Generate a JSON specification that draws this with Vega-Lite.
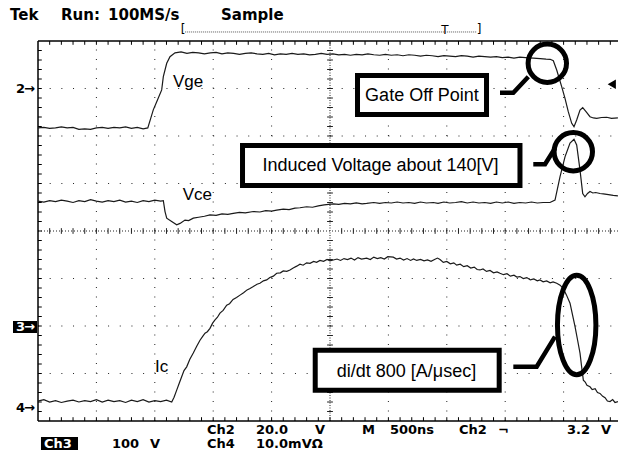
{
"$schema": "https://vega.github.io/schema/vega-lite/v6.json",
"width": 580, "height": 380,
"autosize": "none",
"padding": {"left": 38, "top": 41, "right": 0, "bottom": 32},
"background": "white",
"config": {"view": {"stroke": null}, "axis": {"disable": true}},
"datasets": {
"gv": [{"x":1,"x2":1,"y":0,"y2":8},{"x":2,"x2":2,"y":0,"y2":8},{"x":3,"x2":3,"y":0,"y2":8},{"x":4,"x2":4,"y":0,"y2":8},{"x":6,"x2":6,"y":0,"y2":8},{"x":7,"x2":7,"y":0,"y2":8},{"x":8,"x2":8,"y":0,"y2":8},{"x":9,"x2":9,"y":0,"y2":8}],
"gh": [{"x":0,"x2":9.9315,"y":1,"y2":1},{"x":0,"x2":9.9315,"y":2,"y2":2},{"x":0,"x2":9.9315,"y":3,"y2":3},{"x":0,"x2":9.9315,"y":5,"y2":5},{"x":0,"x2":9.9315,"y":6,"y2":6},{"x":0,"x2":9.9315,"y":7,"y2":7}],
"cv": [{"x":5,"x2":5,"y":0,"y2":8}],
"chz": [{"x":0,"x2":9.9315,"y":4,"y2":4}],
"frame": [{"x":0,"x2":9.9315,"y":8,"y2":8},{"x":0,"x2":0,"y":0,"y2":8},{"x":0,"x2":9.9315,"y":0,"y2":0}],
"ticks": [
{"x":0.2,"x2":0.2,"y":8,"y2":7.92},{"x":0.4,"x2":0.4,"y":8,"y2":7.92},{"x":0.6,"x2":0.6,"y":8,"y2":7.92},{"x":0.8,"x2":0.8,"y":8,"y2":7.92},{"x":1,"x2":1,"y":8,"y2":7.92},{"x":1.2,"x2":1.2,"y":8,"y2":7.92},{"x":1.4,"x2":1.4,"y":8,"y2":7.92},{"x":1.6,"x2":1.6,"y":8,"y2":7.92},{"x":1.8,"x2":1.8,"y":8,"y2":7.92},{"x":2,"x2":2,"y":8,"y2":7.92},{"x":2.2,"x2":2.2,"y":8,"y2":7.92},{"x":2.4,"x2":2.4,"y":8,"y2":7.92},{"x":2.6,"x2":2.6,"y":8,"y2":7.92},{"x":2.8,"x2":2.8,"y":8,"y2":7.92},{"x":3,"x2":3,"y":8,"y2":7.92},{"x":3.2,"x2":3.2,"y":8,"y2":7.92},{"x":3.4,"x2":3.4,"y":8,"y2":7.92},{"x":3.6,"x2":3.6,"y":8,"y2":7.92},{"x":3.8,"x2":3.8,"y":8,"y2":7.92},{"x":4,"x2":4,"y":8,"y2":7.92},{"x":4.2,"x2":4.2,"y":8,"y2":7.92},{"x":4.4,"x2":4.4,"y":8,"y2":7.92},{"x":4.6,"x2":4.6,"y":8,"y2":7.92},{"x":4.8,"x2":4.8,"y":8,"y2":7.92},{"x":5,"x2":5,"y":8,"y2":7.92},{"x":5.2,"x2":5.2,"y":8,"y2":7.92},{"x":5.4,"x2":5.4,"y":8,"y2":7.92},{"x":5.6,"x2":5.6,"y":8,"y2":7.92},{"x":5.8,"x2":5.8,"y":8,"y2":7.92},{"x":6,"x2":6,"y":8,"y2":7.92},{"x":6.2,"x2":6.2,"y":8,"y2":7.92},{"x":6.4,"x2":6.4,"y":8,"y2":7.92},{"x":6.6,"x2":6.6,"y":8,"y2":7.92},{"x":6.8,"x2":6.8,"y":8,"y2":7.92},{"x":7,"x2":7,"y":8,"y2":7.92},{"x":7.2,"x2":7.2,"y":8,"y2":7.92},{"x":7.4,"x2":7.4,"y":8,"y2":7.92},{"x":7.6,"x2":7.6,"y":8,"y2":7.92},{"x":7.8,"x2":7.8,"y":8,"y2":7.92},{"x":8,"x2":8,"y":8,"y2":7.92},{"x":8.2,"x2":8.2,"y":8,"y2":7.92},{"x":8.4,"x2":8.4,"y":8,"y2":7.92},{"x":8.6,"x2":8.6,"y":8,"y2":7.92},{"x":8.8,"x2":8.8,"y":8,"y2":7.92},{"x":9,"x2":9,"y":8,"y2":7.92},{"x":9.2,"x2":9.2,"y":8,"y2":7.92},{"x":9.4,"x2":9.4,"y":8,"y2":7.92},{"x":9.6,"x2":9.6,"y":8,"y2":7.92},{"x":9.8,"x2":9.8,"y":8,"y2":7.92},
{"x":0.2,"x2":0.2,"y":0,"y2":0.08},{"x":0.4,"x2":0.4,"y":0,"y2":0.08},{"x":0.6,"x2":0.6,"y":0,"y2":0.08},{"x":0.8,"x2":0.8,"y":0,"y2":0.08},{"x":1,"x2":1,"y":0,"y2":0.08},{"x":1.2,"x2":1.2,"y":0,"y2":0.08},{"x":1.4,"x2":1.4,"y":0,"y2":0.08},{"x":1.6,"x2":1.6,"y":0,"y2":0.08},{"x":1.8,"x2":1.8,"y":0,"y2":0.08},{"x":2,"x2":2,"y":0,"y2":0.08},{"x":2.2,"x2":2.2,"y":0,"y2":0.08},{"x":2.4,"x2":2.4,"y":0,"y2":0.08},{"x":2.6,"x2":2.6,"y":0,"y2":0.08},{"x":2.8,"x2":2.8,"y":0,"y2":0.08},{"x":3,"x2":3,"y":0,"y2":0.08},{"x":3.2,"x2":3.2,"y":0,"y2":0.08},{"x":3.4,"x2":3.4,"y":0,"y2":0.08},{"x":3.6,"x2":3.6,"y":0,"y2":0.08},{"x":3.8,"x2":3.8,"y":0,"y2":0.08},{"x":4,"x2":4,"y":0,"y2":0.08},{"x":4.2,"x2":4.2,"y":0,"y2":0.08},{"x":4.4,"x2":4.4,"y":0,"y2":0.08},{"x":4.6,"x2":4.6,"y":0,"y2":0.08},{"x":4.8,"x2":4.8,"y":0,"y2":0.08},{"x":5,"x2":5,"y":0,"y2":0.08},{"x":5.2,"x2":5.2,"y":0,"y2":0.08},{"x":5.4,"x2":5.4,"y":0,"y2":0.08},{"x":5.6,"x2":5.6,"y":0,"y2":0.08},{"x":5.8,"x2":5.8,"y":0,"y2":0.08},{"x":6,"x2":6,"y":0,"y2":0.08},{"x":6.2,"x2":6.2,"y":0,"y2":0.08},{"x":6.4,"x2":6.4,"y":0,"y2":0.08},{"x":6.6,"x2":6.6,"y":0,"y2":0.08},{"x":6.8,"x2":6.8,"y":0,"y2":0.08},{"x":7,"x2":7,"y":0,"y2":0.08},{"x":7.2,"x2":7.2,"y":0,"y2":0.08},{"x":7.4,"x2":7.4,"y":0,"y2":0.08},{"x":7.6,"x2":7.6,"y":0,"y2":0.08},{"x":7.8,"x2":7.8,"y":0,"y2":0.08},{"x":8,"x2":8,"y":0,"y2":0.08},{"x":8.2,"x2":8.2,"y":0,"y2":0.08},{"x":8.4,"x2":8.4,"y":0,"y2":0.08},{"x":8.6,"x2":8.6,"y":0,"y2":0.08},{"x":8.8,"x2":8.8,"y":0,"y2":0.08},{"x":9,"x2":9,"y":0,"y2":0.08},{"x":9.2,"x2":9.2,"y":0,"y2":0.08},{"x":9.4,"x2":9.4,"y":0,"y2":0.08},{"x":9.6,"x2":9.6,"y":0,"y2":0.08},{"x":9.8,"x2":9.8,"y":0,"y2":0.08},
{"x":0,"x2":0.065,"y":0.2,"y2":0.2},{"x":0,"x2":0.065,"y":0.4,"y2":0.4},{"x":0,"x2":0.065,"y":0.6,"y2":0.6},{"x":0,"x2":0.065,"y":0.8,"y2":0.8},{"x":0,"x2":0.065,"y":1,"y2":1},{"x":0,"x2":0.065,"y":1.2,"y2":1.2},{"x":0,"x2":0.065,"y":1.4,"y2":1.4},{"x":0,"x2":0.065,"y":1.6,"y2":1.6},{"x":0,"x2":0.065,"y":1.8,"y2":1.8},{"x":0,"x2":0.065,"y":2,"y2":2},{"x":0,"x2":0.065,"y":2.2,"y2":2.2},{"x":0,"x2":0.065,"y":2.4,"y2":2.4},{"x":0,"x2":0.065,"y":2.6,"y2":2.6},{"x":0,"x2":0.065,"y":2.8,"y2":2.8},{"x":0,"x2":0.065,"y":3,"y2":3},{"x":0,"x2":0.065,"y":3.2,"y2":3.2},{"x":0,"x2":0.065,"y":3.4,"y2":3.4},{"x":0,"x2":0.065,"y":3.6,"y2":3.6},{"x":0,"x2":0.065,"y":3.8,"y2":3.8},{"x":0,"x2":0.065,"y":4,"y2":4},{"x":0,"x2":0.065,"y":4.2,"y2":4.2},{"x":0,"x2":0.065,"y":4.4,"y2":4.4},{"x":0,"x2":0.065,"y":4.6,"y2":4.6},{"x":0,"x2":0.065,"y":4.8,"y2":4.8},{"x":0,"x2":0.065,"y":5,"y2":5},{"x":0,"x2":0.065,"y":5.2,"y2":5.2},{"x":0,"x2":0.065,"y":5.4,"y2":5.4},{"x":0,"x2":0.065,"y":5.6,"y2":5.6},{"x":0,"x2":0.065,"y":5.8,"y2":5.8},{"x":0,"x2":0.065,"y":6,"y2":6},{"x":0,"x2":0.065,"y":6.2,"y2":6.2},{"x":0,"x2":0.065,"y":6.4,"y2":6.4},{"x":0,"x2":0.065,"y":6.6,"y2":6.6},{"x":0,"x2":0.065,"y":6.8,"y2":6.8},{"x":0,"x2":0.065,"y":7,"y2":7},{"x":0,"x2":0.065,"y":7.2,"y2":7.2},{"x":0,"x2":0.065,"y":7.4,"y2":7.4},{"x":0,"x2":0.065,"y":7.6,"y2":7.6},{"x":0,"x2":0.065,"y":7.8,"y2":7.8}
],
"cticks": [
{"x":0.2,"x2":0.2,"y":3.94,"y2":4.06},{"x":0.4,"x2":0.4,"y":3.94,"y2":4.06},{"x":0.6,"x2":0.6,"y":3.94,"y2":4.06},{"x":0.8,"x2":0.8,"y":3.94,"y2":4.06},{"x":1,"x2":1,"y":3.94,"y2":4.06},{"x":1.2,"x2":1.2,"y":3.94,"y2":4.06},{"x":1.4,"x2":1.4,"y":3.94,"y2":4.06},{"x":1.6,"x2":1.6,"y":3.94,"y2":4.06},{"x":1.8,"x2":1.8,"y":3.94,"y2":4.06},{"x":2,"x2":2,"y":3.94,"y2":4.06},{"x":2.2,"x2":2.2,"y":3.94,"y2":4.06},{"x":2.4,"x2":2.4,"y":3.94,"y2":4.06},{"x":2.6,"x2":2.6,"y":3.94,"y2":4.06},{"x":2.8,"x2":2.8,"y":3.94,"y2":4.06},{"x":3,"x2":3,"y":3.94,"y2":4.06},{"x":3.2,"x2":3.2,"y":3.94,"y2":4.06},{"x":3.4,"x2":3.4,"y":3.94,"y2":4.06},{"x":3.6,"x2":3.6,"y":3.94,"y2":4.06},{"x":3.8,"x2":3.8,"y":3.94,"y2":4.06},{"x":4,"x2":4,"y":3.94,"y2":4.06},{"x":4.2,"x2":4.2,"y":3.94,"y2":4.06},{"x":4.4,"x2":4.4,"y":3.94,"y2":4.06},{"x":4.6,"x2":4.6,"y":3.94,"y2":4.06},{"x":4.8,"x2":4.8,"y":3.94,"y2":4.06},{"x":5.2,"x2":5.2,"y":3.94,"y2":4.06},{"x":5.4,"x2":5.4,"y":3.94,"y2":4.06},{"x":5.6,"x2":5.6,"y":3.94,"y2":4.06},{"x":5.8,"x2":5.8,"y":3.94,"y2":4.06},{"x":6,"x2":6,"y":3.94,"y2":4.06},{"x":6.2,"x2":6.2,"y":3.94,"y2":4.06},{"x":6.4,"x2":6.4,"y":3.94,"y2":4.06},{"x":6.6,"x2":6.6,"y":3.94,"y2":4.06},{"x":6.8,"x2":6.8,"y":3.94,"y2":4.06},{"x":7,"x2":7,"y":3.94,"y2":4.06},{"x":7.2,"x2":7.2,"y":3.94,"y2":4.06},{"x":7.4,"x2":7.4,"y":3.94,"y2":4.06},{"x":7.6,"x2":7.6,"y":3.94,"y2":4.06},{"x":7.8,"x2":7.8,"y":3.94,"y2":4.06},{"x":8,"x2":8,"y":3.94,"y2":4.06},{"x":8.2,"x2":8.2,"y":3.94,"y2":4.06},{"x":8.4,"x2":8.4,"y":3.94,"y2":4.06},{"x":8.6,"x2":8.6,"y":3.94,"y2":4.06},{"x":8.8,"x2":8.8,"y":3.94,"y2":4.06},{"x":9,"x2":9,"y":3.94,"y2":4.06},{"x":9.2,"x2":9.2,"y":3.94,"y2":4.06},{"x":9.4,"x2":9.4,"y":3.94,"y2":4.06},{"x":9.6,"x2":9.6,"y":3.94,"y2":4.06},{"x":9.8,"x2":9.8,"y":3.94,"y2":4.06},
{"x":4.95,"x2":5.05,"y":0.2,"y2":0.2},{"x":4.95,"x2":5.05,"y":0.4,"y2":0.4},{"x":4.95,"x2":5.05,"y":0.6,"y2":0.6},{"x":4.95,"x2":5.05,"y":0.8,"y2":0.8},{"x":4.95,"x2":5.05,"y":1,"y2":1},{"x":4.95,"x2":5.05,"y":1.2,"y2":1.2},{"x":4.95,"x2":5.05,"y":1.4,"y2":1.4},{"x":4.95,"x2":5.05,"y":1.6,"y2":1.6},{"x":4.95,"x2":5.05,"y":1.8,"y2":1.8},{"x":4.95,"x2":5.05,"y":2,"y2":2},{"x":4.95,"x2":5.05,"y":2.2,"y2":2.2},{"x":4.95,"x2":5.05,"y":2.4,"y2":2.4},{"x":4.95,"x2":5.05,"y":2.6,"y2":2.6},{"x":4.95,"x2":5.05,"y":2.8,"y2":2.8},{"x":4.95,"x2":5.05,"y":3,"y2":3},{"x":4.95,"x2":5.05,"y":3.2,"y2":3.2},{"x":4.95,"x2":5.05,"y":3.4,"y2":3.4},{"x":4.95,"x2":5.05,"y":3.6,"y2":3.6},{"x":4.95,"x2":5.05,"y":3.8,"y2":3.8},{"x":4.95,"x2":5.05,"y":4.2,"y2":4.2},{"x":4.95,"x2":5.05,"y":4.4,"y2":4.4},{"x":4.95,"x2":5.05,"y":4.6,"y2":4.6},{"x":4.95,"x2":5.05,"y":4.8,"y2":4.8},{"x":4.95,"x2":5.05,"y":5,"y2":5},{"x":4.95,"x2":5.05,"y":5.2,"y2":5.2},{"x":4.95,"x2":5.05,"y":5.4,"y2":5.4},{"x":4.95,"x2":5.05,"y":5.6,"y2":5.6},{"x":4.95,"x2":5.05,"y":5.8,"y2":5.8},{"x":4.95,"x2":5.05,"y":6,"y2":6},{"x":4.95,"x2":5.05,"y":6.2,"y2":6.2},{"x":4.95,"x2":5.05,"y":6.4,"y2":6.4},{"x":4.95,"x2":5.05,"y":6.6,"y2":6.6},{"x":4.95,"x2":5.05,"y":6.8,"y2":6.8},{"x":4.95,"x2":5.05,"y":7,"y2":7},{"x":4.95,"x2":5.05,"y":7.2,"y2":7.2},{"x":4.95,"x2":5.05,"y":7.4,"y2":7.4},{"x":4.95,"x2":5.05,"y":7.6,"y2":7.6},{"x":4.95,"x2":5.05,"y":7.8,"y2":7.8}
],
"traces": [
{"ch":"Vge","x":0,"y":6.17},{"ch":"Vge","x":0.1,"y":6.18},{"ch":"Vge","x":0.2,"y":6.16},{"ch":"Vge","x":0.3,"y":6.17},{"ch":"Vge","x":0.4,"y":6.19},{"ch":"Vge","x":0.5,"y":6.17},{"ch":"Vge","x":0.6,"y":6.18},{"ch":"Vge","x":0.7,"y":6.14},{"ch":"Vge","x":0.8,"y":6.15},{"ch":"Vge","x":0.9,"y":6.14},{"ch":"Vge","x":1.0,"y":6.17},{"ch":"Vge","x":1.1,"y":6.18},{"ch":"Vge","x":1.2,"y":6.16},{"ch":"Vge","x":1.3,"y":6.18},{"ch":"Vge","x":1.4,"y":6.17},{"ch":"Vge","x":1.5,"y":6.19},{"ch":"Vge","x":1.6,"y":6.16},{"ch":"Vge","x":1.7,"y":6.18},{"ch":"Vge","x":1.8,"y":6.15},{"ch":"Vge","x":1.88,"y":6.17},{"ch":"Vge","x":1.93,"y":6.37},{"ch":"Vge","x":1.974,"y":6.55},{"ch":"Vge","x":2.033,"y":6.72},{"ch":"Vge","x":2.118,"y":6.97},{"ch":"Vge","x":2.146,"y":7.25},{"ch":"Vge","x":2.204,"y":7.53},{"ch":"Vge","x":2.26,"y":7.67},{"ch":"Vge","x":2.346,"y":7.75},{"ch":"Vge","x":2.45,"y":7.77},{"ch":"Vge","x":2.55,"y":7.74},{"ch":"Vge","x":2.65,"y":7.76},{"ch":"Vge","x":2.75,"y":7.75},{"ch":"Vge","x":2.85,"y":7.73},{"ch":"Vge","x":2.95,"y":7.75},{"ch":"Vge","x":3.05,"y":7.76},{"ch":"Vge","x":3.15,"y":7.73},{"ch":"Vge","x":3.25,"y":7.75},{"ch":"Vge","x":3.35,"y":7.74},{"ch":"Vge","x":3.45,"y":7.72},{"ch":"Vge","x":3.55,"y":7.74},{"ch":"Vge","x":3.65,"y":7.75},{"ch":"Vge","x":3.75,"y":7.73},{"ch":"Vge","x":3.85,"y":7.72},{"ch":"Vge","x":3.95,"y":7.74},{"ch":"Vge","x":4.05,"y":7.71},{"ch":"Vge","x":4.15,"y":7.73},{"ch":"Vge","x":4.25,"y":7.72},{"ch":"Vge","x":4.35,"y":7.74},{"ch":"Vge","x":4.45,"y":7.72},{"ch":"Vge","x":4.55,"y":7.73},{"ch":"Vge","x":4.65,"y":7.71},{"ch":"Vge","x":4.75,"y":7.72},{"ch":"Vge","x":4.85,"y":7.74},{"ch":"Vge","x":4.95,"y":7.72},{"ch":"Vge","x":5.05,"y":7.73},{"ch":"Vge","x":5.15,"y":7.71},{"ch":"Vge","x":5.25,"y":7.72},{"ch":"Vge","x":5.35,"y":7.70},{"ch":"Vge","x":5.45,"y":7.72},{"ch":"Vge","x":5.55,"y":7.71},{"ch":"Vge","x":5.65,"y":7.73},{"ch":"Vge","x":5.75,"y":7.71},{"ch":"Vge","x":5.85,"y":7.70},{"ch":"Vge","x":5.95,"y":7.72},{"ch":"Vge","x":6.05,"y":7.70},{"ch":"Vge","x":6.15,"y":7.71},{"ch":"Vge","x":6.25,"y":7.69},{"ch":"Vge","x":6.35,"y":7.71},{"ch":"Vge","x":6.45,"y":7.70},{"ch":"Vge","x":6.55,"y":7.68},{"ch":"Vge","x":6.65,"y":7.70},{"ch":"Vge","x":6.75,"y":7.69},{"ch":"Vge","x":6.85,"y":7.67},{"ch":"Vge","x":6.95,"y":7.69},{"ch":"Vge","x":7.05,"y":7.68},{"ch":"Vge","x":7.15,"y":7.67},{"ch":"Vge","x":7.25,"y":7.69},{"ch":"Vge","x":7.35,"y":7.68},{"ch":"Vge","x":7.45,"y":7.66},{"ch":"Vge","x":7.55,"y":7.68},{"ch":"Vge","x":7.65,"y":7.67},{"ch":"Vge","x":7.75,"y":7.66},{"ch":"Vge","x":7.85,"y":7.67},{"ch":"Vge","x":7.95,"y":7.65},{"ch":"Vge","x":8.05,"y":7.66},{"ch":"Vge","x":8.15,"y":7.64},{"ch":"Vge","x":8.25,"y":7.66},{"ch":"Vge","x":8.35,"y":7.65},{"ch":"Vge","x":8.48,"y":7.64},{"ch":"Vge","x":8.6,"y":7.63},{"ch":"Vge","x":8.7,"y":7.62},{"ch":"Vge","x":8.77,"y":7.615},{"ch":"Vge","x":8.824,"y":7.585},{"ch":"Vge","x":8.882,"y":7.389},{"ch":"Vge","x":8.967,"y":7.038},{"ch":"Vge","x":9.024,"y":6.794},{"ch":"Vge","x":9.08,"y":6.512},{"ch":"Vge","x":9.139,"y":6.267},{"ch":"Vge","x":9.178,"y":6.196},{"ch":"Vge","x":9.224,"y":6.337},{"ch":"Vge","x":9.281,"y":6.547},{"ch":"Vge","x":9.327,"y":6.596},{"ch":"Vge","x":9.384,"y":6.512},{"ch":"Vge","x":9.452,"y":6.406},{"ch":"Vge","x":9.51,"y":6.38},{"ch":"Vge","x":9.567,"y":6.373},{"ch":"Vge","x":9.65,"y":6.39},{"ch":"Vge","x":9.738,"y":6.394},{"ch":"Vge","x":9.82,"y":6.37},{"ch":"Vge","x":9.93,"y":6.38},
{"ch":"Vce","x":0,"y":4.63},{"ch":"Vce","x":0.1,"y":4.61},{"ch":"Vce","x":0.2,"y":4.64},{"ch":"Vce","x":0.3,"y":4.62},{"ch":"Vce","x":0.4,"y":4.65},{"ch":"Vce","x":0.5,"y":4.63},{"ch":"Vce","x":0.6,"y":4.60},{"ch":"Vce","x":0.7,"y":4.64},{"ch":"Vce","x":0.8,"y":4.62},{"ch":"Vce","x":0.9,"y":4.66},{"ch":"Vce","x":1.0,"y":4.63},{"ch":"Vce","x":1.1,"y":4.61},{"ch":"Vce","x":1.2,"y":4.64},{"ch":"Vce","x":1.3,"y":4.62},{"ch":"Vce","x":1.4,"y":4.65},{"ch":"Vce","x":1.5,"y":4.61},{"ch":"Vce","x":1.6,"y":4.63},{"ch":"Vce","x":1.7,"y":4.60},{"ch":"Vce","x":1.8,"y":4.64},{"ch":"Vce","x":1.9,"y":4.62},{"ch":"Vce","x":2.0,"y":4.65},{"ch":"Vce","x":2.1,"y":4.63},{"ch":"Vce","x":2.146,"y":4.64},{"ch":"Vce","x":2.175,"y":4.41},{"ch":"Vce","x":2.204,"y":4.27},{"ch":"Vce","x":2.289,"y":4.20},{"ch":"Vce","x":2.375,"y":4.13},{"ch":"Vce","x":2.432,"y":4.16},{"ch":"Vce","x":2.517,"y":4.23},{"ch":"Vce","x":2.58,"y":4.22},{"ch":"Vce","x":2.659,"y":4.27},{"ch":"Vce","x":2.75,"y":4.29},{"ch":"Vce","x":2.85,"y":4.31},{"ch":"Vce","x":2.945,"y":4.34},{"ch":"Vce","x":3.05,"y":4.33},{"ch":"Vce","x":3.15,"y":4.36},{"ch":"Vce","x":3.25,"y":4.35},{"ch":"Vce","x":3.344,"y":4.37},{"ch":"Vce","x":3.45,"y":4.39},{"ch":"Vce","x":3.55,"y":4.38},{"ch":"Vce","x":3.687,"y":4.41},{"ch":"Vce","x":3.8,"y":4.40},{"ch":"Vce","x":3.9,"y":4.43},{"ch":"Vce","x":4.0,"y":4.42},{"ch":"Vce","x":4.087,"y":4.44},{"ch":"Vce","x":4.2,"y":4.46},{"ch":"Vce","x":4.3,"y":4.45},{"ch":"Vce","x":4.4,"y":4.48},{"ch":"Vce","x":4.486,"y":4.49},{"ch":"Vce","x":4.6,"y":4.51},{"ch":"Vce","x":4.7,"y":4.50},{"ch":"Vce","x":4.8,"y":4.53},{"ch":"Vce","x":4.9,"y":4.55},{"ch":"Vce","x":5.057,"y":4.57},{"ch":"Vce","x":5.15,"y":4.56},{"ch":"Vce","x":5.25,"y":4.58},{"ch":"Vce","x":5.35,"y":4.57},{"ch":"Vce","x":5.45,"y":4.59},{"ch":"Vce","x":5.55,"y":4.57},{"ch":"Vce","x":5.628,"y":4.58},{"ch":"Vce","x":5.75,"y":4.60},{"ch":"Vce","x":5.85,"y":4.58},{"ch":"Vce","x":5.95,"y":4.60},{"ch":"Vce","x":6.05,"y":4.59},{"ch":"Vce","x":6.15,"y":4.61},{"ch":"Vce","x":6.25,"y":4.59},{"ch":"Vce","x":6.35,"y":4.60},{"ch":"Vce","x":6.45,"y":4.58},{"ch":"Vce","x":6.55,"y":4.61},{"ch":"Vce","x":6.65,"y":4.59},{"ch":"Vce","x":6.769,"y":4.60},{"ch":"Vce","x":6.85,"y":4.58},{"ch":"Vce","x":6.95,"y":4.61},{"ch":"Vce","x":7.05,"y":4.59},{"ch":"Vce","x":7.15,"y":4.60},{"ch":"Vce","x":7.25,"y":4.62},{"ch":"Vce","x":7.35,"y":4.59},{"ch":"Vce","x":7.45,"y":4.61},{"ch":"Vce","x":7.55,"y":4.59},{"ch":"Vce","x":7.65,"y":4.60},{"ch":"Vce","x":7.75,"y":4.58},{"ch":"Vce","x":7.85,"y":4.61},{"ch":"Vce","x":7.95,"y":4.59},{"ch":"Vce","x":8.05,"y":4.61},{"ch":"Vce","x":8.15,"y":4.58},{"ch":"Vce","x":8.25,"y":4.60},{"ch":"Vce","x":8.35,"y":4.59},{"ch":"Vce","x":8.45,"y":4.61},{"ch":"Vce","x":8.55,"y":4.59},{"ch":"Vce","x":8.65,"y":4.60},{"ch":"Vce","x":8.767,"y":4.60},{"ch":"Vce","x":8.853,"y":4.65},{"ch":"Vce","x":8.938,"y":5.14},{"ch":"Vce","x":9.024,"y":5.56},{"ch":"Vce","x":9.11,"y":5.85},{"ch":"Vce","x":9.178,"y":5.93},{"ch":"Vce","x":9.224,"y":5.81},{"ch":"Vce","x":9.281,"y":5.28},{"ch":"Vce","x":9.327,"y":4.79},{"ch":"Vce","x":9.366,"y":4.72},{"ch":"Vce","x":9.41,"y":4.79},{"ch":"Vce","x":9.452,"y":4.83},{"ch":"Vce","x":9.5,"y":4.80},{"ch":"Vce","x":9.55,"y":4.81},{"ch":"Vce","x":9.623,"y":4.79},{"ch":"Vce","x":9.68,"y":4.78},{"ch":"Vce","x":9.74,"y":4.77},{"ch":"Vce","x":9.795,"y":4.76},{"ch":"Vce","x":9.85,"y":4.75},{"ch":"Vce","x":9.93,"y":4.74},
{"ch":"Ic","x":0,"y":0.42},{"ch":"Ic","x":0.1,"y":0.45},{"ch":"Ic","x":0.2,"y":0.40},{"ch":"Ic","x":0.3,"y":0.43},{"ch":"Ic","x":0.4,"y":0.39},{"ch":"Ic","x":0.5,"y":0.42},{"ch":"Ic","x":0.6,"y":0.44},{"ch":"Ic","x":0.7,"y":0.40},{"ch":"Ic","x":0.8,"y":0.43},{"ch":"Ic","x":0.9,"y":0.41},{"ch":"Ic","x":1.0,"y":0.45},{"ch":"Ic","x":1.1,"y":0.40},{"ch":"Ic","x":1.2,"y":0.44},{"ch":"Ic","x":1.3,"y":0.41},{"ch":"Ic","x":1.4,"y":0.43},{"ch":"Ic","x":1.5,"y":0.39},{"ch":"Ic","x":1.6,"y":0.44},{"ch":"Ic","x":1.7,"y":0.41},{"ch":"Ic","x":1.8,"y":0.45},{"ch":"Ic","x":1.9,"y":0.40},{"ch":"Ic","x":2.0,"y":0.43},{"ch":"Ic","x":2.1,"y":0.41},{"ch":"Ic","x":2.2,"y":0.44},{"ch":"Ic","x":2.29,"y":0.40},{"ch":"Ic","x":2.33,"y":0.50},{"ch":"Ic","x":2.375,"y":0.65},{"ch":"Ic","x":2.42,"y":0.80},{"ch":"Ic","x":2.46,"y":0.93},{"ch":"Ic","x":2.5,"y":1.06},{"ch":"Ic","x":2.546,"y":1.14},{"ch":"Ic","x":2.6,"y":1.30},{"ch":"Ic","x":2.659,"y":1.43},{"ch":"Ic","x":2.72,"y":1.58},{"ch":"Ic","x":2.774,"y":1.70},{"ch":"Ic","x":2.82,"y":1.78},{"ch":"Ic","x":2.86,"y":1.85},{"ch":"Ic","x":2.9,"y":1.88},{"ch":"Ic","x":2.945,"y":1.95},{"ch":"Ic","x":2.99,"y":2.06},{"ch":"Ic","x":3.031,"y":2.13},{"ch":"Ic","x":3.07,"y":2.18},{"ch":"Ic","x":3.116,"y":2.27},{"ch":"Ic","x":3.17,"y":2.33},{"ch":"Ic","x":3.231,"y":2.44},{"ch":"Ic","x":3.28,"y":2.47},{"ch":"Ic","x":3.34,"y":2.56},{"ch":"Ic","x":3.4,"y":2.60},{"ch":"Ic","x":3.459,"y":2.65},{"ch":"Ic","x":3.52,"y":2.70},{"ch":"Ic","x":3.58,"y":2.76},{"ch":"Ic","x":3.63,"y":2.79},{"ch":"Ic","x":3.687,"y":2.83},{"ch":"Ic","x":3.75,"y":2.88},{"ch":"Ic","x":3.8,"y":2.90},{"ch":"Ic","x":3.86,"y":2.95},{"ch":"Ic","x":3.916,"y":2.97},{"ch":"Ic","x":3.97,"y":3.02},{"ch":"Ic","x":4.03,"y":3.05},{"ch":"Ic","x":4.087,"y":3.11},{"ch":"Ic","x":4.15,"y":3.12},{"ch":"Ic","x":4.2,"y":3.16},{"ch":"Ic","x":4.26,"y":3.15},{"ch":"Ic","x":4.315,"y":3.18},{"ch":"Ic","x":4.37,"y":3.22},{"ch":"Ic","x":4.43,"y":3.26},{"ch":"Ic","x":4.486,"y":3.30},{"ch":"Ic","x":4.54,"y":3.28},{"ch":"Ic","x":4.6,"y":3.33},{"ch":"Ic","x":4.658,"y":3.32},{"ch":"Ic","x":4.72,"y":3.36},{"ch":"Ic","x":4.77,"y":3.34},{"ch":"Ic","x":4.829,"y":3.38},{"ch":"Ic","x":4.89,"y":3.36},{"ch":"Ic","x":4.95,"y":3.40},{"ch":"Ic","x":5.0,"y":3.37},{"ch":"Ic","x":5.057,"y":3.39},{"ch":"Ic","x":5.12,"y":3.41},{"ch":"Ic","x":5.18,"y":3.38},{"ch":"Ic","x":5.24,"y":3.42},{"ch":"Ic","x":5.3,"y":3.40},{"ch":"Ic","x":5.36,"y":3.43},{"ch":"Ic","x":5.42,"y":3.39},{"ch":"Ic","x":5.48,"y":3.44},{"ch":"Ic","x":5.54,"y":3.41},{"ch":"Ic","x":5.628,"y":3.43},{"ch":"Ic","x":5.69,"y":3.40},{"ch":"Ic","x":5.75,"y":3.45},{"ch":"Ic","x":5.81,"y":3.42},{"ch":"Ic","x":5.87,"y":3.44},{"ch":"Ic","x":5.93,"y":3.41},{"ch":"Ic","x":5.99,"y":3.46},{"ch":"Ic","x":6.084,"y":3.45},{"ch":"Ic","x":6.14,"y":3.41},{"ch":"Ic","x":6.2,"y":3.43},{"ch":"Ic","x":6.26,"y":3.39},{"ch":"Ic","x":6.32,"y":3.42},{"ch":"Ic","x":6.38,"y":3.38},{"ch":"Ic","x":6.43,"y":3.41},{"ch":"Ic","x":6.485,"y":3.38},{"ch":"Ic","x":6.55,"y":3.40},{"ch":"Ic","x":6.61,"y":3.37},{"ch":"Ic","x":6.67,"y":3.39},{"ch":"Ic","x":6.73,"y":3.36},{"ch":"Ic","x":6.79,"y":3.40},{"ch":"Ic","x":6.84,"y":3.43},{"ch":"Ic","x":6.884,"y":3.40},{"ch":"Ic","x":6.94,"y":3.34},{"ch":"Ic","x":7.0,"y":3.36},{"ch":"Ic","x":7.06,"y":3.31},{"ch":"Ic","x":7.12,"y":3.33},{"ch":"Ic","x":7.169,"y":3.28},{"ch":"Ic","x":7.23,"y":3.30},{"ch":"Ic","x":7.29,"y":3.25},{"ch":"Ic","x":7.35,"y":3.27},{"ch":"Ic","x":7.41,"y":3.22},{"ch":"Ic","x":7.47,"y":3.24},{"ch":"Ic","x":7.52,"y":3.19},{"ch":"Ic","x":7.568,"y":3.18},{"ch":"Ic","x":7.62,"y":3.20},{"ch":"Ic","x":7.68,"y":3.15},{"ch":"Ic","x":7.74,"y":3.17},{"ch":"Ic","x":7.8,"y":3.12},{"ch":"Ic","x":7.86,"y":3.14},{"ch":"Ic","x":7.911,"y":3.11},{"ch":"Ic","x":7.97,"y":3.08},{"ch":"Ic","x":8.03,"y":3.10},{"ch":"Ic","x":8.09,"y":3.05},{"ch":"Ic","x":8.15,"y":3.07},{"ch":"Ic","x":8.2,"y":3.03},{"ch":"Ic","x":8.253,"y":3.04},{"ch":"Ic","x":8.31,"y":3.00},{"ch":"Ic","x":8.37,"y":3.02},{"ch":"Ic","x":8.43,"y":2.97},{"ch":"Ic","x":8.49,"y":2.99},{"ch":"Ic","x":8.55,"y":2.95},{"ch":"Ic","x":8.596,"y":2.97},{"ch":"Ic","x":8.65,"y":2.93},{"ch":"Ic","x":8.71,"y":2.95},{"ch":"Ic","x":8.77,"y":2.91},{"ch":"Ic","x":8.82,"y":2.93},{"ch":"Ic","x":8.882,"y":2.90},{"ch":"Ic","x":8.94,"y":2.86},{"ch":"Ic","x":8.995,"y":2.79},{"ch":"Ic","x":9.05,"y":2.65},{"ch":"Ic","x":9.11,"y":2.48},{"ch":"Ic","x":9.15,"y":2.25},{"ch":"Ic","x":9.195,"y":1.99},{"ch":"Ic","x":9.24,"y":1.70},{"ch":"Ic","x":9.281,"y":1.43},{"ch":"Ic","x":9.31,"y":1.13},{"ch":"Ic","x":9.338,"y":0.86},{"ch":"Ic","x":9.37,"y":0.82},{"ch":"Ic","x":9.4,"y":0.75},{"ch":"Ic","x":9.452,"y":0.72},{"ch":"Ic","x":9.49,"y":0.66},{"ch":"Ic","x":9.54,"y":0.68},{"ch":"Ic","x":9.58,"y":0.60},{"ch":"Ic","x":9.623,"y":0.58},{"ch":"Ic","x":9.67,"y":0.52},{"ch":"Ic","x":9.71,"y":0.49},{"ch":"Ic","x":9.75,"y":0.42},{"ch":"Ic","x":9.795,"y":0.41},{"ch":"Ic","x":9.84,"y":0.45},{"ch":"Ic","x":9.88,"y":0.39},{"ch":"Ic","x":9.93,"y":0.41}
],
"tlabels": [{"x":2.312,"y":7.137,"text":"Vge"},{"x":2.477,"y":4.758,"text":"Vce"},{"x":2.003,"y":1.143,"text":"Ic"}],
"boxes": [{"x":5.471,"x2":7.680,"y":7.274,"y2":6.453},{"x":3.502,"x2":8.253,"y":5.800,"y2":4.958},{"x":4.747,"x2":7.897,"y":1.491,"y2":0.649}],
"boxtext": [{"x":6.575,"y":6.85,"text":"Gate Off Point"},{"x":5.865,"y":5.368,"text":"Induced Voltage about 140[V]"},{"x":6.31,"y":1.038,"text":"di/dt 800 [A/μsec]"}],
"leaders": [{"id":"a","x":7.911,"y":6.912},{"id":"a","x":8.139,"y":6.912},{"id":"a","x":8.396,"y":7.248},{"id":"b","x":8.481,"y":5.404},{"id":"b","x":8.682,"y":5.404},{"id":"b","x":8.853,"y":5.741},{"id":"c","x":8.139,"y":1.143},{"id":"c","x":8.539,"y":1.143},{"id":"c","x":8.853,"y":1.775}],
"circles": [{"x":8.721,"y":7.531},{"x":9.166,"y":5.669}],
"ellipse": [{"x":9.224,"y":2.021}],
"trig": [{"x":9.825,"y":7.088}],
"chmark": [{"x":-0.377,"y":7.0,"text":"2"},{"x":-0.24,"y":7.0,"text":"→"},{"x":-0.377,"y":0.274,"text":"4"},{"x":-0.24,"y":0.274,"text":"→"}],
"invbox": [{"x":-0.428,"x2":-0.017,"y":2.105,"y2":1.853},{"x":0.051,"x2":0.685,"y":-0.337,"y2":-0.611}],
"invtext": [{"x":-0.377,"y":1.979,"text":"3"},{"x":-0.24,"y":1.979,"text":"→"},{"x":0.103,"y":-0.474,"text":"Ch3"}],
"header": [{"x":-0.479,"y":8.547,"text":"Tek"},{"x":0.394,"y":8.547,"text":"Run:"},{"x":1.199,"y":8.547,"text":"100MS/s"},{"x":3.134,"y":8.547,"text":"Sample"}],
"bottom": [{"x":2.894,"y":-0.189,"text":"Ch2"},{"x":3.733,"y":-0.189,"text":"20.0"},{"x":4.743,"y":-0.189,"text":"V"},{"x":5.548,"y":-0.189,"text":"M"},{"x":6.027,"y":-0.189,"text":"500ns"},{"x":7.209,"y":-0.189,"text":"Ch2"},{"x":7.877,"y":-0.189,"text":"¬"},{"x":9.058,"y":-0.189,"text":"3.2"},{"x":9.64,"y":-0.189,"text":"V"},{"x":1.267,"y":-0.484,"text":"100"},{"x":1.918,"y":-0.484,"text":"V"},{"x":2.894,"y":-0.484,"text":"Ch4"},{"x":3.733,"y":-0.484,"text":"10.0mVΩ"}],
"brtext": [{"x":2.483,"y":8.253,"text":"["},{"x":7.551,"y":8.253,"text":"]"},{"x":6.969,"y":8.24,"text":"T"}],
"brline": [{"x":2.52,"x2":7.52,"y":8.19,"y2":8.19}]
},
"encoding": {
"x": {"field": "x", "type": "quantitative", "scale": {"domain": [0, 9.9315], "nice": false, "zero": false}, "axis": null},
"y": {"field": "y", "type": "quantitative", "scale": {"domain": [0, 8], "nice": false, "zero": false}, "axis": null}
},
"layer": [
{"data": {"name": "gv"}, "mark": {"type": "rule", "color": "#222", "strokeWidth": 1, "strokeDash": [1, 8.5]}, "encoding": {"x2": {"field": "x2"}, "y2": {"field": "y2"}}},
{"data": {"name": "gh"}, "mark": {"type": "rule", "color": "#222", "strokeWidth": 1, "strokeDash": [1, 10.68]}, "encoding": {"x2": {"field": "x2"}, "y2": {"field": "y2"}}},
{"data": {"name": "cv"}, "mark": {"type": "rule", "color": "#222", "strokeWidth": 1, "strokeDash": [1, 1.5]}, "encoding": {"x2": {"field": "x2"}, "y2": {"field": "y2"}}},
{"data": {"name": "chz"}, "mark": {"type": "rule", "color": "#222", "strokeWidth": 1, "strokeDash": [1, 2]}, "encoding": {"x2": {"field": "x2"}, "y2": {"field": "y2"}}},
{"data": {"name": "ticks"}, "mark": {"type": "rule", "color": "#000", "strokeWidth": 1}, "encoding": {"x2": {"field": "x2"}, "y2": {"field": "y2"}}},
{"data": {"name": "cticks"}, "mark": {"type": "rule", "color": "#222", "strokeWidth": 1}, "encoding": {"x2": {"field": "x2"}, "y2": {"field": "y2"}}},
{"data": {"name": "frame"}, "mark": {"type": "rule", "color": "#000", "strokeWidth": 1.5}, "encoding": {"x2": {"field": "x2"}, "y2": {"field": "y2"}}},
{"data": {"name": "traces"}, "mark": {"type": "line", "color": "#1a1a1a", "strokeWidth": 1.2}, "encoding": {"detail": {"field": "ch"}}},
{"data": {"name": "tlabels"}, "mark": {"type": "text", "font": "Liberation Sans", "fontSize": 17, "align": "left", "baseline": "middle", "color": "#000"}, "encoding": {"text": {"field": "text"}}},
{"data": {"name": "boxes"}, "mark": {"type": "rect", "fill": "white", "stroke": "#000", "strokeWidth": 5}, "encoding": {"x2": {"field": "x2"}, "y2": {"field": "y2"}}},
{"data": {"name": "boxtext"}, "mark": {"type": "text", "font": "Liberation Sans", "fontSize": 18, "align": "center", "baseline": "middle", "color": "#000"}, "encoding": {"text": {"field": "text"}}},
{"data": {"name": "leaders"}, "mark": {"type": "line", "color": "#000", "strokeWidth": 4.5, "strokeJoin": "miter"}, "encoding": {"detail": {"field": "id"}}},
{"data": {"name": "circles"}, "mark": {"type": "point", "shape": "circle", "size": 1475, "filled": false, "stroke": "#000", "strokeWidth": 5, "opacity": 1}},
{"data": {"name": "ellipse"}, "mark": {"type": "point", "shape": "M0.386,0C0.386,0.5523,0.2132,1,0,1C-0.2132,1,-0.386,0.5523,-0.386,0C-0.386,-0.5523,-0.2132,-1,0,-1C0.2132,-1,0.386,-0.5523,0.386,0Z", "size": 9920, "filled": false, "stroke": "#000", "strokeWidth": 5, "opacity": 1}},
{"data": {"name": "trig"}, "mark": {"type": "point", "shape": "triangle-left", "size": 90, "filled": true, "color": "#000", "opacity": 1}},
{"data": {"name": "chmark"}, "mark": {"type": "text", "font": "DejaVu Sans", "fontSize": 13, "fontWeight": "bold", "align": "left", "baseline": "middle", "color": "#000"}, "encoding": {"text": {"field": "text"}}},
{"data": {"name": "invbox"}, "mark": {"type": "rect", "fill": "#000"}, "encoding": {"x2": {"field": "x2"}, "y2": {"field": "y2"}}},
{"data": {"name": "invtext"}, "mark": {"type": "text", "font": "DejaVu Sans", "fontSize": 13, "fontWeight": "bold", "align": "left", "baseline": "middle", "color": "#fff"}, "encoding": {"text": {"field": "text"}}},
{"data": {"name": "header"}, "mark": {"type": "text", "font": "DejaVu Sans", "fontSize": 15, "fontWeight": "bold", "align": "left", "baseline": "middle", "color": "#000"}, "encoding": {"text": {"field": "text"}}},
{"data": {"name": "bottom"}, "mark": {"type": "text", "font": "DejaVu Sans", "fontSize": 13, "fontWeight": "bold", "align": "left", "baseline": "middle", "color": "#000"}, "encoding": {"text": {"field": "text"}}},
{"data": {"name": "brtext"}, "mark": {"type": "text", "font": "DejaVu Sans", "fontSize": 12, "align": "center", "baseline": "middle", "color": "#000"}, "encoding": {"text": {"field": "text"}}},
{"data": {"name": "brline"}, "mark": {"type": "rule", "color": "#555", "strokeWidth": 1, "strokeDash": [1, 1]}, "encoding": {"x2": {"field": "x2"}, "y2": {"field": "y2"}}}
]
}
